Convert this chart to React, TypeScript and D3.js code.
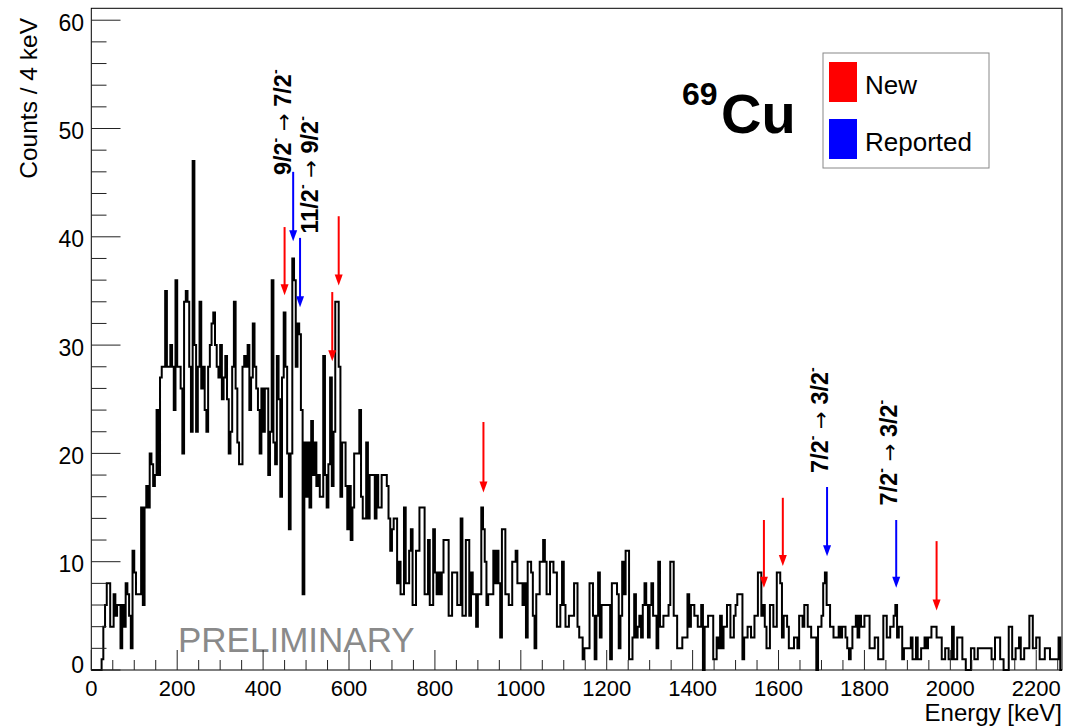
import React from 'react';
import * as d3 from 'd3';

// Counts per 4 keV bin, starting at 0 keV (565 bins, 0–2260 keV)
const counts: number[] = [
  // 0-100
  0, 0, 0, 0, 0, 0, 1, 4, 6, 8, 8, 4, 4, 7, 5, 6, 6, 2, 6, 4, 8, 7, 5, 2, 11,
  // 100-200
  9, 7, 7, 7, 15, 6, 15, 17, 15, 20, 19, 17, 18, 24, 18, 27, 28, 28, 35, 28, 28, 30, 28, 24, 36,
  // 200-300
  28, 28, 26, 20, 34, 35, 34, 28, 22, 47, 30, 22, 28, 34, 26, 28, 24, 22, 28, 30, 32, 33, 30, 28, 27,
  // 300-400
  30, 25, 27, 29, 25, 20, 22, 28, 34, 26, 21, 19, 19, 28, 29, 28, 30, 24, 27, 32, 28, 26, 24, 20, 26,
  // 400-500
  22, 26, 26, 18, 22, 36, 21, 19, 29, 25, 16, 27, 33, 28, 20, 13, 20, 38, 36, 28, 32, 31, 24, 7, 21,
  // 500-600
  16, 21, 15, 23, 18, 21, 17, 18, 16, 16, 29, 18, 15, 19, 27, 17, 22, 34, 34, 28, 16, 21, 21, 17, 13,
  // 600-700
  17, 12, 15, 20, 20, 20, 24, 16, 14, 14, 21, 14, 18, 18, 18, 14, 18, 15, 15, 18, 18, 18, 17, 14, 11,
  // 700-800
  13, 14, 14, 8, 10, 7, 7, 15, 8, 8, 11, 13, 6, 6, 11, 11, 15, 15, 15, 7, 7, 12, 6, 6, 13,
  // 800-900
  9, 7, 9, 7, 9, 12, 12, 12, 5, 5, 9, 9, 9, 6, 6, 14, 5, 5, 12, 12, 5, 9, 7, 7, 4,
  // 900-1000
  7, 7, 15, 13, 10, 6, 7, 7, 7, 11, 8, 11, 8, 3, 13, 13, 7, 7, 6, 6, 10, 10, 11, 8, 8,
  // 1000-1100
  8, 6, 8, 3, 10, 10, 9, 5, 2, 7, 7, 10, 10, 12, 10, 7, 7, 10, 10, 9, 9, 4, 4, 6, 10,
  // 1100-1200
  6, 4, 4, 5, 5, 5, 8, 8, 4, 3, 3, 1, 2, 2, 2, 8, 8, 5, 1, 5, 9, 3, 6, 6, 6,
  // 1200-1300
  6, 6, 1, 8, 8, 8, 7, 2, 5, 10, 7, 11, 11, 1, 1, 3, 7, 3, 4, 5, 3, 6, 8, 6, 3,
  // 1300-1400
  6, 8, 5, 5, 2, 10, 4, 4, 5, 5, 5, 6, 10, 10, 5, 5, 2, 2, 2, 3, 3, 3, 7, 4, 6,
  // 1400-1500
  6, 5, 5, 4, 4, 6, 0, 4, 4, 5, 5, 5, 1, 1, 3, 2, 5, 2, 4, 4, 6, 6, 3, 3, 5,
  // 1500-1600
  6, 7, 7, 7, 1, 3, 3, 4, 4, 3, 3, 5, 5, 9, 9, 5, 6, 4, 2, 2, 6, 6, 4, 4, 9,
  // 1600-1700
  9, 8, 3, 5, 5, 4, 2, 2, 2, 3, 3, 2, 5, 5, 4, 6, 6, 4, 4, 3, 3, 3, 0, 4, 4,
  // 1700-1800
  5, 8, 9, 6, 6, 4, 4, 3, 3, 3, 4, 3, 4, 4, 3, 2, 1, 2, 4, 4, 5, 3, 5, 4, 4,
  // 1800-1900
  5, 5, 5, 2, 2, 2, 3, 3, 1, 1, 1, 5, 5, 3, 3, 4, 4, 5, 6, 3, 4, 4, 1, 2, 2,
  // 1900-2000
  2, 2, 3, 1, 1, 3, 1, 1, 2, 2, 3, 2, 3, 3, 4, 4, 4, 3, 3, 3, 1, 1, 2, 2, 1,
  // 2000-2100
  1, 4, 1, 1, 3, 3, 3, 1, 1, 0, 0, 0, 2, 2, 1, 1, 2, 2, 2, 2, 2, 2, 2, 2, 1,
  // 2100-2200
  1, 3, 3, 3, 1, 1, 0, 0, 0, 4, 4, 1, 1, 2, 2, 3, 1, 1, 2, 2, 2, 5, 5, 2, 2,
  // 2200-2260
  3, 3, 1, 1, 1, 2, 2, 2, 1, 1, 1, 1, 1, 3, 0,
];
const binWidth = 4;
const xMax = 2260;
const yMax = 61.1;

const xMajorTicks = [0, 200, 400, 600, 800, 1000, 1200, 1400, 1600, 1800, 2000, 2200];
const yMajorTicks = [0, 10, 20, 30, 40, 50, 60];

// "New" transitions (red arrows): energy, arrow top (counts), arrow tip (counts)
const newEnergies = [450, 561, 576, 913, 1566, 1610, 1968];
const newTop = [40.9, 34.9, 41.9, 22.9, 13.85, 15.9, 11.9];
const newTip = [34.6, 28.5, 35.5, 16.4, 7.6, 9.6, 5.5];

// "Reported" transitions (blue arrows)
const reportedEnergies = [470, 486, 1713, 1874];
const reportedTop = [46.0, 39.9, 16.9, 13.85];
const reportedTip = [39.6, 33.5, 10.5, 7.6];
const reportedFrom = ['9/2', '11/2', '7/2', '7/2'];
const reportedTo = ['7/2', '9/2', '3/2', '3/2'];
// label anchor (energy, counts) for the rotated spin labels
const labelEnergy = [464, 527, 1715, 1876];
const labelCount = [45.7, 40.3, 18.2, 15.2];

const legendLabels = ['New', 'Reported'];
const legendColors = ['#ff0000', '#0000ff'];

const FONT = '"Liberation Sans", Arial, Helvetica, sans-serif';

export default function App() {
  const x = d3.scaleLinear().domain([0, xMax]).range([91.3, 1062]);
  const y = d3.scaleLinear().domain([0, yMax]).range([670, 8.3]);

  const pts: [number, number][] = [[0, 0]];
  counts.forEach((c, i) => pts.push([i * binWidth, c]));
  pts.push([counts.length * binWidth, counts[counts.length - 1]]);
  pts.push([counts.length * binWidth, 0]);
  const line = d3
    .line<[number, number]>()
    .x((d) => x(d[0]))
    .y((d) => y(d[1]))
    .curve(d3.curveStepAfter);
  const histPath = line(pts) || '';

  const yMinor = d3.range(0, 61, 2).filter((v) => v % 10 !== 0);
  const xMinor = d3.range(0, xMax + 1, 50).filter((v) => v % 200 !== 0);

  const arrow = (e: number, top: number, tip: number, color: string, key: string) => {
    const ax = x(e);
    const yt = y(top);
    const yp = y(tip);
    const hl = 11;
    const hw = 4;
    return (
      <g key={key}>
        <line x1={ax} x2={ax} y1={yt} y2={yp - hl + 1} stroke={color} strokeWidth={2} />
        <polygon points={`${ax - hw},${yp - hl} ${ax + hw},${yp - hl} ${ax},${yp}`} fill={color} />
      </g>
    );
  };

  return (
    <div style={{ position: 'absolute', left: 0, top: 0 }}>
      <svg width={1066} height={726} style={{ display: 'block', background: '#fff' }} fontFamily={FONT}>
        <rect x={0} y={0} width={1066} height={726} fill="#fff" />
        {/* PRELIMINARY watermark */}
        <text x={178} y={652} fontSize={35} fill="#8a8a8a">PRELIMINARY</text>

        {/* histogram */}
        <path d={histPath} fill="none" stroke="#000" strokeWidth={2} strokeLinejoin="miter" />

        {/* frame */}
        <rect x={91.3} y={8.3} width={1062 - 91.3} height={670 - 8.3} fill="none" stroke="#000" strokeWidth={1} />

        {/* y ticks */}
        {yMajorTicks.map((v) => (
          <line key={'ym' + v} x1={91.3} x2={120.5} y1={y(v)} y2={y(v)} stroke="#222" strokeWidth={1} />
        ))}
        {yMinor.map((v) => (
          <line key={'yn' + v} x1={91.3} x2={106.5} y1={y(v)} y2={y(v)} stroke="#222" strokeWidth={1} />
        ))}
        {yMajorTicks.map((v) => (
          <text key={'yl' + v} x={84} y={y(v) + (v === 0 ? 3 : 10.5)} fontSize={23} textAnchor="end" fill="#000">
            {v}
          </text>
        ))}

        {/* x ticks */}
        {xMajorTicks.map((v) => (
          <line key={'xm' + v} x1={x(v)} x2={x(v)} y1={670} y2={650} stroke="#222" strokeWidth={1} />
        ))}
        {xMinor.map((v) => (
          <line key={'xn' + v} x1={x(v)} x2={x(v)} y1={670} y2={660} stroke="#222" strokeWidth={1} />
        ))}
        {xMajorTicks.map((v) => (
          <text key={'xl' + v} x={x(v)} y={696} fontSize={22} textAnchor="middle" fill="#000">
            {v}
          </text>
        ))}

        {/* axis titles */}
        <text transform="translate(37,18) rotate(-90)" fontSize={24.5} textAnchor="end" fill="#000">
          Counts / 4 keV
        </text>
        <text x={1062} y={721} fontSize={24} textAnchor="end" fill="#000">
          Energy [keV]
        </text>

        {/* arrows */}
        {newEnergies.map((e, i) => arrow(e, newTop[i], newTip[i], '#ff0000', 'n' + i))}
        {reportedEnergies.map((e, i) => arrow(e, reportedTop[i], reportedTip[i], '#0000ff', 'r' + i))}

        {/* spin labels */}
        {reportedEnergies.map((e, i) => (
          <text
            key={'lab' + i}
            transform={`translate(${x(labelEnergy[i])},${y(labelCount[i])}) rotate(-90)`}
            fontSize={23.5}
            fontWeight="bold"
            fill="#000"
          >
            <tspan>{reportedFrom[i]}</tspan>
            <tspan dy={-11} fontSize={14}>-</tspan>
            <tspan dy={11} fontWeight="normal" fontFamily='"DejaVu Sans", sans-serif' fontSize={21}>{' \u2192 '}</tspan>
            <tspan>{reportedTo[i]}</tspan>
            <tspan dy={-11} fontSize={14}>-</tspan>
          </text>
        ))}

        {/* nucleus label */}
        <text x={682} y={105} fontSize={32} fontWeight="bold" fill="#000">69</text>
        <text x={721} y={133} fontSize={56} fontWeight="bold" fill="#000">Cu</text>

        {/* legend */}
        <rect x={823} y={53} width={166} height={115} fill="#fff" stroke="#888" strokeWidth={1} />
        {legendLabels.map((l, i) => (
          <g key={'leg' + i}>
            <rect x={829} y={62 + i * 57} width={28} height={40} fill={legendColors[i]} />
            <text x={865} y={94 + i * 57} fontSize={26} fill="#000">{l}</text>
          </g>
        ))}
      </svg>
    </div>
  );
}
